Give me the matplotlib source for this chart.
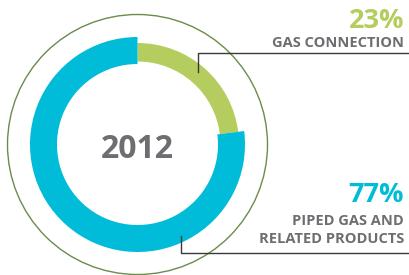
import matplotlib
matplotlib.use("Agg")
import matplotlib.pyplot as plt
from matplotlib.patches import Wedge, Circle

# Data
year = "2012"
categories = ["GAS CONNECTION", "PIPED GAS AND\nRELATED PRODUCTS"]
shares = [23, 77]
colors = ["#b5cd5f", "#00bcd9"]

W, H = 409, 275
fig = plt.figure(figsize=(W / 100, H / 100), dpi=100)
ax = fig.add_axes([0, 0, 1, 1])
ax.set_xlim(0, W)
ax.set_ylim(0, H)
ax.axis("off")

def Y(py):
    return H - py

cx, cy = 137.5, Y(144.5)
font = "Open Sans"
gray = "#6d6e71"

# outer thin circle
ax.add_patch(Circle((cx, cy), 130, fill=False, ec="#6a8c4c", lw=1.0))

# ring segments (clockwise from 12 o'clock)
radii = [(83, 101.5), (80.5, 107.5)]
start = 90.0
for share, col, (rin, rout) in zip(shares, colors, radii):
    span = share / sum(shares) * 360.0
    ax.add_patch(Wedge((cx, cy), rout, start - span, start, width=rout - rin,
                       fc=col, ec="none"))
    start -= span

ax.text(cx, Y(150), year, ha="center", va="center", fontsize=23,
        fontweight="bold", color=gray, family=font)

# labels
ax.text(404, Y(20.5), f"{shares[0]}%", ha="right", va="center", fontsize=19.5,
        fontweight="bold", color=colors[0], family=font)
ax.text(404, Y(43), categories[0], ha="right", va="center", fontsize=10.5,
        fontweight="bold", color=gray, family=font)
ax.text(404, Y(195.5), f"{shares[1]}%", ha="right", va="center", fontsize=19.5,
        fontweight="bold", color=colors[1], family=font)
ax.text(404, Y(230), categories[1], ha="right", va="center", fontsize=10.5,
        fontweight="bold", color=gray, family=font, linespacing=1.3)

# connector lines
lc = "#3a3a3a"
ax.plot([198, 198, W], [Y(72), Y(53), Y(53)], color=lc, lw=1.0)
ax.plot([181, 181, W], [Y(236), Y(253), Y(253)], color=lc, lw=1.0)

fig.savefig("out.png", dpi=100, facecolor="white")
